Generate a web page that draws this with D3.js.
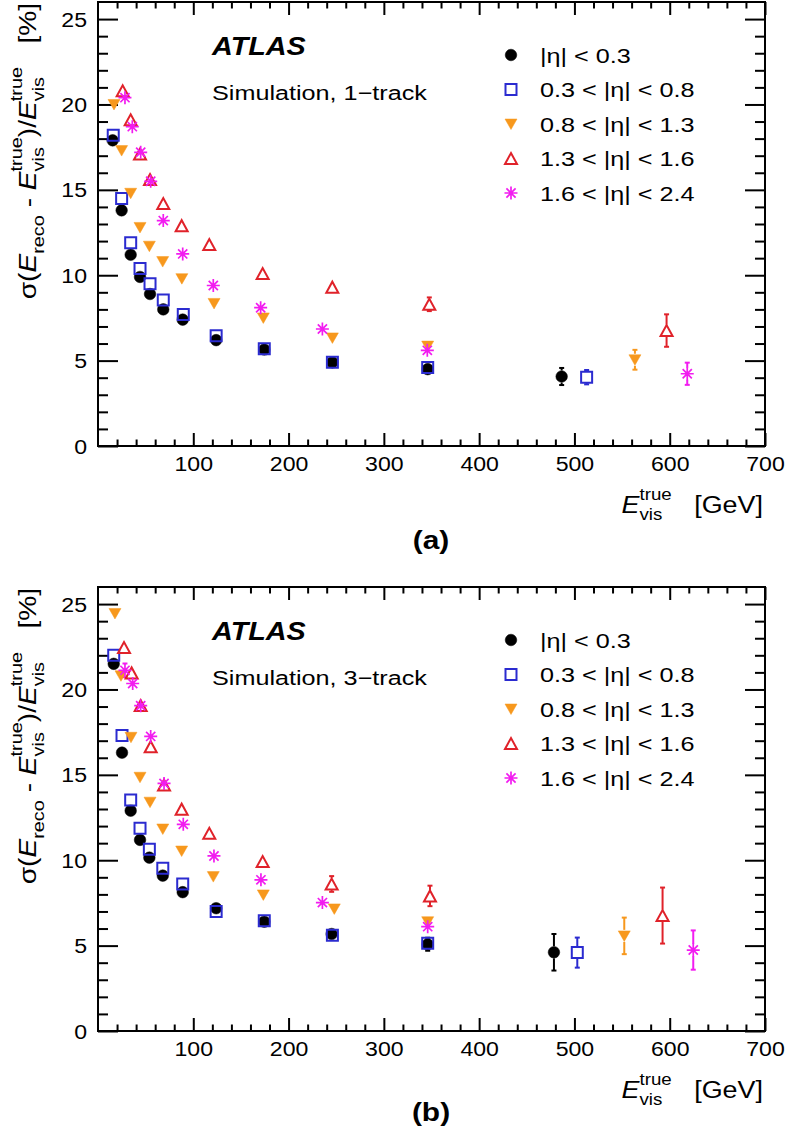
<!DOCTYPE html>
<html>
<head>
<meta charset="utf-8">
<script src="https://cdn.jsdelivr.net/npm/d3@7"></script>
<style>
body{margin:0;background:#fff;}
svg{display:block;}
text{font-family:"Liberation Sans",Arial,sans-serif;white-space:pre;}
</style>
</head>
<body>
<svg id="chart" width="786" height="1137"></svg>
<script>
// eta bins, same for both panels
const etaLabels = ["|η| < 0.3", "0.3 < |η| < 0.8", "0.8 < |η| < 1.3", "1.3 < |η| < 1.6", "1.6 < |η| < 2.4"];
const colors = ["#000000", "#2b2bd0", "#f7981d", "#e0222a", "#f21cf0"];
const markers = ["circle", "openSquare", "triDown", "openTriUp", "star"];

const xTicks = [100, 200, 300, 400, 500, 600, 700];
const yTicks = [0, 5, 10, 15, 20, 25];

// (a) 1-track : E_vis^true [GeV], resolution [%], error [%]
const e1p = [
    [15.4, 24.8, 34.3, 44.1, 54.6, 68.5, 88.9, 124, 174.5, 245.9, 346, 486.6],
    [16.0, 24.8, 34.3, 44.1, 54.6, 68.5, 89.5, 124, 174.5, 246, 346, 512.8],
    [16.8, 24.8, 34.3, 44.1, 53.9, 67.9, 88.0, 121.8, 173.5, 246, 346, 563.5],
    [25.9, 34.3, 44.1, 54.6, 68.5, 87.8, 116.8, 172.8, 245.9, 347.7, 596.7],
    [28.3, 36.0, 44.8, 55.3, 68.5, 88.9, 121.0, 170.7, 235.5, 345.6, 618.4]
];
const r1p = [
    [17.9, 13.8, 11.2, 9.9, 8.9, 8.0, 7.4, 6.2, 5.65, 4.9, 4.5, 4.07],
    [18.2, 14.5, 11.9, 10.4, 9.5, 8.55, 7.7, 6.45, 5.7, 4.9, 4.6, 4.03],
    [20.0, 17.3, 14.8, 12.8, 11.7, 10.8, 9.8, 8.35, 7.5, 6.33, 5.85, 5.05],
    [20.8, 19.1, 17.1, 15.6, 14.2, 12.9, 11.8, 10.1, 9.3, 8.3, 6.76],
    [20.4, 18.7, 17.2, 15.5, 13.2, 11.25, 9.4, 8.1, 6.85, 5.6, 4.23]
];
const err1p = [
    [0.05, 0.05, 0.05, 0.05, 0.05, 0.05, 0.05, 0.05, 0.06, 0.08, 0.12, 0.5],
    [0.05, 0.05, 0.05, 0.05, 0.05, 0.05, 0.05, 0.05, 0.06, 0.08, 0.12, 0.42],
    [0.05, 0.05, 0.05, 0.05, 0.05, 0.05, 0.05, 0.06, 0.08, 0.1, 0.15, 0.58],
    [0.06, 0.06, 0.06, 0.06, 0.06, 0.06, 0.08, 0.1, 0.15, 0.4, 0.95],
    [0.06, 0.06, 0.06, 0.06, 0.06, 0.06, 0.08, 0.1, 0.12, 0.2, 0.65]
];

// (b) 3-track
const e3p = [
    [16.5, 25.2, 34.3, 44.1, 53.9, 68.0, 88.9, 124, 174.5, 245.2, 346, 478.5],
    [16.5, 25.2, 34.3, 44.1, 53.9, 68.0, 88.9, 124, 174.5, 246, 346, 503],
    [17.8, 24.1, 34.6, 44.1, 54.6, 68.0, 87.8, 121, 173.5, 248, 346, 552.3],
    [27.3, 35.3, 44.8, 55.3, 69.3, 87.8, 116.8, 172.8, 245.2, 348.4, 592.5],
    [28.3, 36.4, 44.8, 55.3, 69.3, 89.5, 121.7, 171, 235.5, 346, 624.7]
];
const r3p = [
    [21.5, 16.3, 12.9, 11.19, 10.15, 9.1, 8.13, 7.19, 6.4, 5.68, 5.08, 4.61],
    [22.0, 17.3, 13.53, 11.87, 10.65, 9.53, 8.61, 7.0, 6.45, 5.6, 5.14, 4.59],
    [24.45, 20.8, 17.2, 14.86, 13.4, 11.83, 10.54, 9.04, 7.97, 7.15, 6.4, 5.57],
    [22.45, 20.97, 19.06, 16.65, 14.4, 12.99, 11.58, 9.92, 8.61, 7.91, 6.76],
    [21.12, 20.35, 19.05, 17.25, 14.5, 12.1, 10.25, 8.85, 7.52, 6.11, 4.74]
];
const err3p = [
    [0.1, 0.08, 0.08, 0.08, 0.08, 0.08, 0.08, 0.1, 0.12, 0.15, 0.38, 1.07],
    [0.1, 0.08, 0.08, 0.08, 0.08, 0.08, 0.08, 0.1, 0.12, 0.15, 0.2, 0.88],
    [0.1, 0.1, 0.08, 0.08, 0.08, 0.08, 0.1, 0.1, 0.15, 0.3, 0.2, 1.07],
    [0.15, 0.12, 0.12, 0.12, 0.12, 0.12, 0.15, 0.2, 0.46, 0.6, 1.64],
    [0.4, 0.15, 0.12, 0.12, 0.12, 0.12, 0.15, 0.15, 0.2, 0.3, 1.15]
];

const SX = 1.17;   // the original glyphs are a bit wider than Arial
const svg = d3.select("#chart");

// ROOT-like marker shapes as d3 symbol types
const shapes = {
    circle: {draw: function(c){ c.arc(0, 0, 5.8, 0, 2 * Math.PI); }},
    openSquare: {draw: function(c){ c.rect(-5.5, -5.5, 11, 11); }},
    triDown: {draw: function(c){ c.moveTo(-6, -5); c.lineTo(6, -5); c.lineTo(0, 5.5); c.closePath(); }},
    openTriUp: {draw: function(c){ c.moveTo(-6, 5.5); c.lineTo(6, 5.5); c.lineTo(0, -5.5); c.closePath(); }},
    star: {draw: function(c){
        var r = 6.5, q = 4.6;
        c.moveTo(-r, 0); c.lineTo(r, 0);
        c.moveTo(0, -r); c.lineTo(0, r);
        c.moveTo(-q, -q); c.lineTo(q, q);
        c.moveTo(-q, q); c.lineTo(q, -q);
    }}
};
const filled = {circle: true, triDown: true};

function drawMarker(g, type, color, x, y){
    g.append("path")
        .attr("d", d3.symbol().type(shapes[type])())
        .attr("transform", `translate(${x},${y})`)
        .attr("fill", filled[type] ? color : "none")
        .attr("stroke", color)
        .attr("stroke-width", filled[type] ? 0.5 : (type == "star" ? 1.7 : 2));
}

// text with sub/superscripts laid out piece by piece, returns width
function rich(g, parts, size, small, up, down){
    var cx = 0;
    parts.forEach(function(p){
        if(p.sup !== undefined){
            var a = g.append("text").attr("x", cx).attr("y", -up).attr("font-size", small).text(p.sup);
            var b = g.append("text").attr("x", cx).attr("y", down).attr("font-size", small).text(p.sub);
            cx += Math.max(a.node().getComputedTextLength(), b.node().getComputedTextLength());
        } else if(p.sub !== undefined){
            var s = g.append("text").attr("x", cx).attr("y", down).attr("font-size", small).text(p.sub);
            cx += s.node().getComputedTextLength();
        } else {
            var t = g.append("text").attr("x", cx).attr("font-size", size)
                .attr("font-style", p.it ? "italic" : null).text(p.t);
            cx += t.node().getComputedTextLength();
        }
    });
    return cx;
}

function drawPanel(top, energy, reso, errs, trackLabel, tag, tagY){
    var left = 98, right = 765, bottom = top + 444;
    var x = d3.scaleLinear().domain([0, 700]).range([left, right]);
    var y = d3.scaleLinear().domain([0, 26]).range([bottom, top]);

    var xMinor = d3.range(20, 700, 20).filter(d => d % 100 != 0);
    var yMinor = d3.range(1, 26, 1).filter(d => d % 5 != 0);

    function styleAxis(ax){
        ax.select(".domain").remove();
        ax.selectAll("line").attr("stroke-width", 2);
        ax.attr("font-family", '"Liberation Sans", Arial, sans-serif').attr("font-size", 21);
    }

    // bottom
    var bx = svg.append("g").attr("transform", `translate(0,${bottom})`)
        .call(d3.axisBottom(x).tickValues(xTicks).tickSizeInner(-13).tickSizeOuter(0).tickPadding(10).tickFormat(d3.format("d")));
    styleAxis(bx);
    bx.selectAll("text").attr("transform", `scale(1.1,1)`);
    styleAxis(svg.append("g").attr("transform", `translate(0,${bottom})`)
        .call(d3.axisBottom(x).tickValues(xMinor).tickSizeInner(-6.5).tickSizeOuter(0).tickFormat("")));
    // top
    styleAxis(svg.append("g").attr("transform", `translate(0,${top})`)
        .call(d3.axisTop(x).tickValues(xTicks).tickSizeInner(-13).tickSizeOuter(0).tickFormat("")));
    styleAxis(svg.append("g").attr("transform", `translate(0,${top})`)
        .call(d3.axisTop(x).tickValues(xMinor).tickSizeInner(-6.5).tickSizeOuter(0).tickFormat("")));
    // left
    var ly = svg.append("g").attr("transform", `translate(${left},0)`)
        .call(d3.axisLeft(y).tickValues(yTicks).tickSizeInner(-20).tickSizeOuter(0).tickPadding(11).tickFormat(d3.format("d")));
    styleAxis(ly);
    ly.selectAll("text").attr("x", -11 / 1.1).attr("dy", "0.34em").attr("transform", "scale(1.1,1)");
    styleAxis(svg.append("g").attr("transform", `translate(${left},0)`)
        .call(d3.axisLeft(y).tickValues(yMinor).tickSizeInner(-10).tickSizeOuter(0).tickFormat("")));
    // right
    styleAxis(svg.append("g").attr("transform", `translate(${right},0)`)
        .call(d3.axisRight(y).tickValues(yTicks).tickSizeInner(-20).tickSizeOuter(0).tickFormat("")));
    styleAxis(svg.append("g").attr("transform", `translate(${right},0)`)
        .call(d3.axisRight(y).tickValues(yMinor).tickSizeInner(-10).tickSizeOuter(0).tickFormat("")));

    svg.append("rect")
        .attr("x", left).attr("y", top)
        .attr("width", right - left).attr("height", bottom - top)
        .attr("fill", "none").attr("stroke", "#000").attr("stroke-width", 2);

    // data: error bars first, then markers
    var pts = svg.append("g");
    energy.forEach(function(xs, s){
        xs.forEach(function(e, i){
            var cx = x(e), cy = y(reso[s][i]);
            var yHi = y(reso[s][i] + errs[s][i]), yLo = y(reso[s][i] - errs[s][i]);
            var gap = 6;
            if(cy - yHi > gap){
                pts.append("line").attr("x1", cx).attr("x2", cx).attr("y1", yHi).attr("y2", cy - gap)
                    .attr("stroke", colors[s]).attr("stroke-width", 2);
                pts.append("line").attr("x1", cx - 2.5).attr("x2", cx + 2.5).attr("y1", yHi).attr("y2", yHi)
                    .attr("stroke", colors[s]).attr("stroke-width", 2);
            }
            if(yLo - cy > gap){
                pts.append("line").attr("x1", cx).attr("x2", cx).attr("y1", cy + gap).attr("y2", yLo)
                    .attr("stroke", colors[s]).attr("stroke-width", 2);
                pts.append("line").attr("x1", cx - 2.5).attr("x2", cx + 2.5).attr("y1", yLo).attr("y2", yLo)
                    .attr("stroke", colors[s]).attr("stroke-width", 2);
            }
        });
    });
    energy.forEach(function(xs, s){
        xs.forEach(function(e, i){
            drawMarker(pts, markers[s], colors[s], x(e), y(reso[s][i]));
        });
    });

    // ATLAS label
    svg.append("text")
        .attr("transform", `translate(212,${top + 53}) scale(1.15,1)`)
        .attr("font-size", 25).attr("font-weight", "bold").attr("font-style", "italic")
        .text("ATLAS");
    svg.append("text")
        .attr("transform", `translate(212,${top + 98}) scale(1.2,1)`)
        .attr("font-size", 21)
        .text("Simulation, " + trackLabel);

    // legend
    etaLabels.forEach(function(lab, s){
        var ly = top + 53 + s * 34.5;
        drawMarker(svg, markers[s], colors[s], 511, ly);
        svg.append("text")
            .attr("transform", `translate(540,${ly + 7.5}) scale(1.2,1)`)
            .attr("font-size", 21)
            .text(lab);
    });

    // x title, right aligned to the frame
    var xt = svg.append("g");
    var wx = rich(xt, [{t: "E", it: true}, {sup: "true", sub: "vis"}, {t: "   [GeV]"}], 23, 16, 13, 7);
    xt.attr("transform", `translate(763,${bottom + 67}) scale(${SX},1) translate(${-wx},0)`);

    // y title, rotated, ending at the top of the frame
    var yt = svg.append("g");
    var wy = rich(yt, [
        {t: "σ(", it: false}, {t: "E", it: true}, {sub: "reco"},
        {t: " - "}, {t: "E", it: true}, {sup: "true", sub: "vis"},
        {t: ")/"}, {t: "E", it: true}, {sup: "true", sub: "vis"},
        {t: "   [%]"}
    ], 24, 17, 14, 8);
    yt.attr("transform", `translate(36,${top + 1}) rotate(-90) scale(${SX},1) translate(${-wy},0)`);

    svg.append("text")
        .attr("transform", `translate(431,${tagY}) scale(1.15,1)`)
        .attr("text-anchor", "middle")
        .attr("font-family", '"Liberation Serif", "Times New Roman", serif')
        .attr("font-weight", "bold").attr("font-size", 26)
        .text(tag);
}

drawPanel(2, e1p, r1p, err1p, "1\u2212track", "(a)", 549);
drawPanel(587, e3p, r3p, err3p, "3\u2212track", "(b)", 1121);
</script>
</body>
</html>
